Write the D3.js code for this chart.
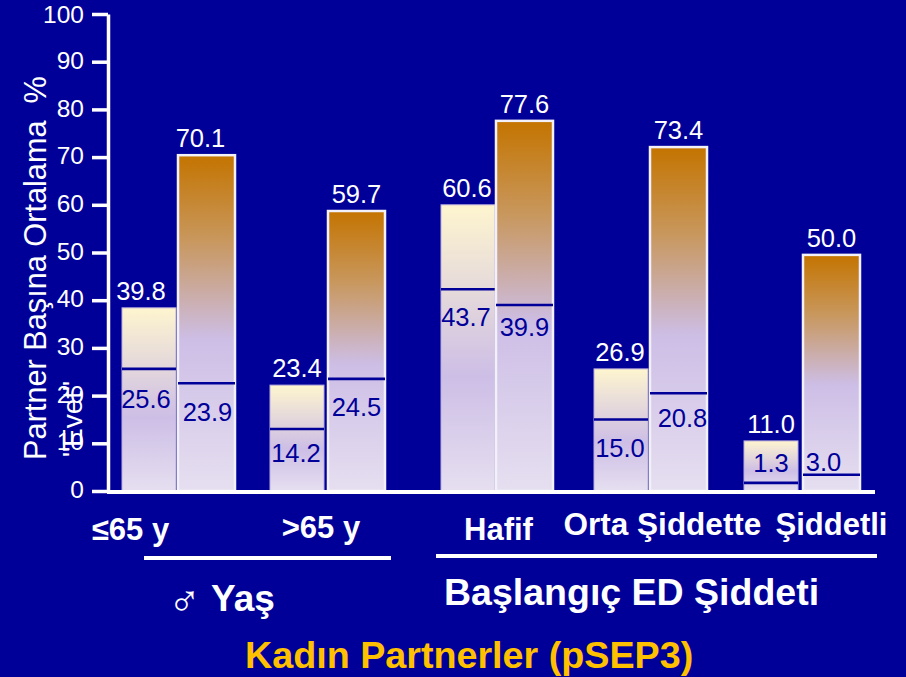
<!DOCTYPE html>
<html><head><meta charset="utf-8">
<script src="https://cdn.jsdelivr.net/npm/d3@7"></script>
<style>html,body{margin:0;padding:0;background:#000099;overflow:hidden}svg{display:block}text{font-family:"Liberation Sans",Arial,sans-serif}</style>
</head><body><svg id="c" width="906" height="677"></svg>
<script>
const categories = ["≤65 y", ">65 y", "Hafif", "Orta Şiddette", "Şiddetli"];
const lowerTops = [38.4, 22.2, 60.0, 25.6, 10.5];
const upperTops = [70.4, 58.7, 77.6, 72.1, 49.5];
const lowerLines = [25.6, 13.0, 42.3, 15.0, 1.7];
const upperLines = [22.6, 23.5, 39.0, 20.5, 3.4];
const lowerTopLabels = ["39.8", "23.4", "60.6", "26.9", "11.0"];
const upperTopLabels = ["70.1", "59.7", "77.6", "73.4", "50.0"];
const lowerLineLabels = ["25.6", "14.2", "43.7", "15.0", "1.3"];
const upperLineLabels = ["23.9", "24.5", "39.9", "20.8", "3.0"];
const yTicks = [0,10,20,30,40,50,60,70,80,90,100];

const svg = d3.select("#c");
const y = d3.scaleLinear().domain([0,100]).range([491,14]);
const xLower = d3.scaleOrdinal(categories).range([122,270,441,594,744]);
const xUpper = d3.scaleOrdinal(categories).range([178,328,496,650,803]);
const lowerW = 54, upperW = 57;
const lowerTopDx = [-8,0,-1,-1,0], upperTopDx = [-6,0,0,0,0];
const lowerLineDx = [-3,-1,-2,-1,0], upperLineDx = [1,0,0,4,-8];
const lowerLineDy = [39,33,37,38,-11], upperLineDy = [38,37,31,34,-4];

const defs = svg.append("defs");
function grad(id, stops){
  const g = defs.append("linearGradient").attr("id",id).attr("x1",0).attr("x2",0).attr("y1",0).attr("y2",1);
  stops.forEach(s=>g.append("stop").attr("offset",s[0]).attr("stop-color",s[1]));
}
grad("gl",[[0,"#FEF5CF"],[0.6,"#CDBEE6"],[1,"#E6DFF0"]]);
grad("gu",[[0,"#C47400"],[0.25,"#C8975C"],[0.55,"#CDBEE6"],[1,"#E6DFF0"]]);

const ax = svg.append("g").attr("transform","translate(108,0)")
  .call(d3.axisLeft(y).tickValues(yTicks).tickSize(16).tickPadding(8).tickSizeOuter(0));
ax.selectAll("path,line").attr("stroke","#fff").attr("stroke-width",3.5);
ax.selectAll("text").attr("fill","#fff").attr("font-size",24.5).attr("dy",d=>d===100?"0.34em":"0.27em").style("font-family",'"Liberation Sans"');

const rows = categories.map((c,i)=>({c,i}));
function drawBars(xs,w,tops,lines,topL,lineL,topDx,lineDx,lineDy,fill,stroke,sw){
  const g = svg.append("g");
  const x0 = d=>xs(d.c);
  g.selectAll("rect").data(rows).join("rect")
    .attr("x",x0).attr("width",w)
    .attr("y",d=>y(tops[d.i])).attr("height",d=>y(0)-y(tops[d.i]))
    .attr("fill",`url(#${fill})`).attr("stroke",stroke).attr("stroke-width",sw);
  g.selectAll("line").data(rows).join("line")
    .attr("x1",x0).attr("x2",d=>x0(d)+w)
    .attr("y1",d=>y(lines[d.i])).attr("y2",d=>y(lines[d.i]))
    .attr("stroke","#000099").attr("stroke-width",2.6);
  g.selectAll("text.t").data(rows).join("text").attr("class","t")
    .attr("x",d=>x0(d)+w/2+topDx[d.i]).attr("y",d=>y(tops[d.i])-8)
    .attr("text-anchor","middle").attr("font-size",25.5).attr("fill","#fff").text(d=>topL[d.i]);
  g.selectAll("text.l").data(rows).join("text").attr("class","l")
    .attr("x",d=>x0(d)+w/2+lineDx[d.i]).attr("y",d=>y(lines[d.i])+lineDy[d.i])
    .attr("text-anchor","middle").attr("font-size",25.5).attr("fill","#000099").text(d=>lineL[d.i]);
}
drawBars(xLower,lowerW,lowerTops,lowerLines,lowerTopLabels,lowerLineLabels,lowerTopDx,lowerLineDx,lowerLineDy,"gl","#B9AEDC",1);
drawBars(xUpper,upperW,upperTops,upperLines,upperTopLabels,upperLineLabels,upperTopDx,upperLineDx,upperLineDy,"gu","#F2F0F8",2.5);

svg.append("line").attr("x1",107).attr("x2",875).attr("y1",y(0)+1).attr("y2",y(0)+1).attr("stroke","#fff").attr("stroke-width",4);

function t(x,yy,s,size,bold,col,anchor){
  return svg.append("text").attr("x",x).attr("y",yy).attr("font-size",size)
   .attr("font-weight",bold?"bold":"normal").attr("fill",col||"#fff").attr("text-anchor",anchor||"start").text(s);
}
t(130.5,540,categories[0],31,true,"#fff","middle");
t(321,538,categories[1],31,true,"#fff","middle");
t(498.5,540,categories[2],31,true,"#fff","middle");
t(662.5,535,categories[3],31.5,true,"#fff","middle");
t(831.5,535,categories[4],31,true,"#fff","middle");

[[144,391,558],[436,877,556]].forEach(l=>svg.append("line").attr("x1",l[0]).attr("x2",l[1]).attr("y1",l[2]).attr("y2",l[2]).attr("stroke","#fff").attr("stroke-width",4));

svg.append("text").attr("transform","translate(46,268) rotate(-90)").attr("text-anchor","middle").attr("font-size",30.7).attr("fill","#fff").attr("xml:space","preserve").text("Partner Başına Ortalama  %");
svg.append("text").attr("transform","translate(82,419) rotate(-90)").attr("text-anchor","middle").attr("font-size",28).attr("fill","#fff").text('"Evet"');

t(168,616,"♂",44,false,"#fff");
t(211,611,"Yaş",37,true);
t(444,605,"Başlangıç ED Şiddeti",37.5,true);
t(245,668,"Kadın Partnerler (pSEP3)",37.7,true,"#FFC000");
</script></body></html>
